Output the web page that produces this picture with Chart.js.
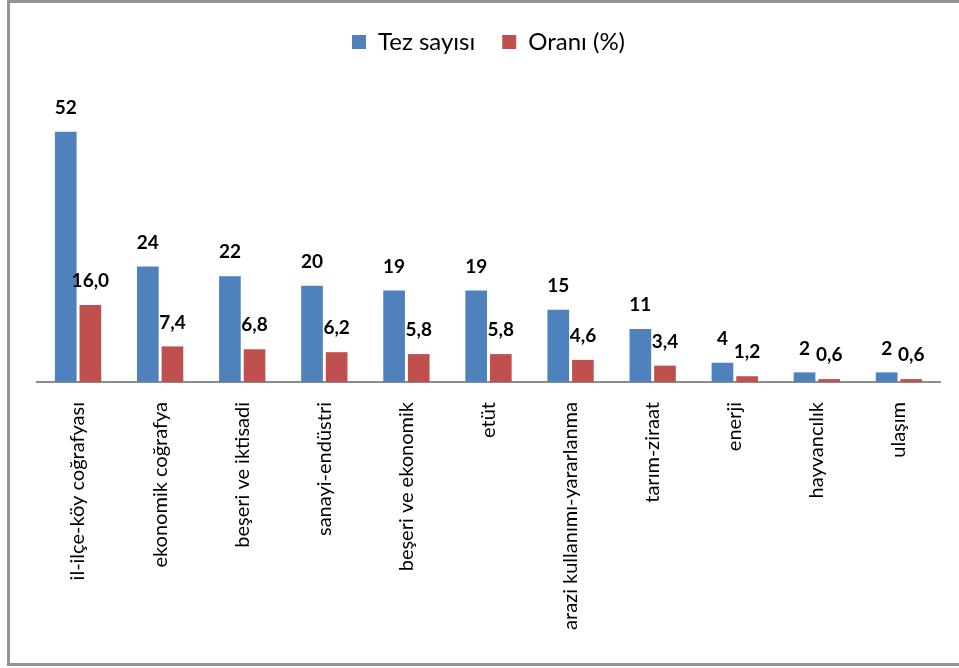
<!DOCTYPE html>
<html>
<head>
<meta charset="utf-8">
<script src="https://cdn.jsdelivr.net/npm/chart.js@4.4.1/dist/chart.umd.min.js"></script>
<style>
  html, body { margin: 0; padding: 0; background: #fff; overflow: hidden; }
  .wrap { position: relative; width: 959px; height: 668px; }
  .frame {
    position: absolute; left: 7px; top: 0; right: -20px; height: 666px;
    box-sizing: border-box; border: 3px solid #939393; pointer-events: none;
  }
</style>
</head>
<body>
<div class="wrap">
  <canvas id="chart"></canvas>
  <div class="frame"></div>
</div>
<script>
const categories = [
  'il-ilçe-köy coğrafyası', 'ekonomik coğrafya', 'beşeri ve iktisadi',
  'sanayi-endüstri', 'beşeri ve ekonomik', 'etüt', 'arazi kullanımı-yararlanma',
  'tarım-ziraat', 'enerji', 'hayvancılık', 'ulaşım'
];
const tezSayisi = [52, 24, 22, 20, 19, 19, 15, 11, 4, 2, 2];
const orani = [16.0, 7.4, 6.8, 6.2, 5.8, 5.8, 4.6, 3.4, 1.2, 0.6, 0.6];

const valueLabels = {
  id: 'valueLabels',
  afterDatasetsDraw(chart) {
    const { ctx } = chart;
    ctx.save();
    ctx.font = 'bold 19px Lato';
    ctx.fillStyle = '#000';
    ctx.textAlign = 'center';
    ctx.textBaseline = 'middle';
    chart.data.datasets.forEach((ds, i) => {
      chart.getDatasetMeta(i).data.forEach((bar, j) => {
        const v = ds.data[j];
        const text = i === 0 ? String(v) : v.toFixed(1).replace('.', ',');
        ctx.fillText(text, bar.x, bar.y - 24);
      });
    });
    ctx.restore();
  }
};

const canvas = document.getElementById('chart');
canvas.width = 959;
canvas.height = 668;

new Chart(canvas, {
  type: 'bar',
  data: {
    labels: categories,
    datasets: [
      {
        label: 'Tez sayısı',
        data: tezSayisi,
        backgroundColor: '#4F81BD',
        borderColor: '#4F81BD',
        borderWidth: 0,
        categoryPercentage: 0.6,
        barPercentage: 0.88
      },
      {
        label: 'Oranı (%)',
        data: orani,
        backgroundColor: '#C0504D',
        borderColor: '#C0504D',
        borderWidth: 0,
        categoryPercentage: 0.6,
        barPercentage: 0.88
      }
    ]
  },
  options: {
    responsive: false,
    animation: false,
    layout: { padding: { top: 3, left: 37, right: 19, bottom: 0 } },
    plugins: {
      legend: {
        position: 'top',
        labels: {
          font: { family: 'Lato', size: 24 },
          color: '#000',
          boxWidth: 14,
          boxHeight: 14,
          padding: 27
        }
      },
      tooltip: { enabled: false }
    },
    scales: {
      x: {
        grid: { display: false, drawTicks: false },
        border: { display: true, color: '#8c8c8c', width: 2 },
        ticks: {
          font: { family: 'Lato', size: 20 },
          color: '#000',
          minRotation: 90,
          maxRotation: 90,
          autoSkip: false,
          padding: 20
        },
        afterFit(scale) { scale.height = 286; }
      },
      y: {
        display: false,
        min: 0,
        max: 66.1
      }
    }
  },
  plugins: [valueLabels]
});
</script>
</body>
</html>
